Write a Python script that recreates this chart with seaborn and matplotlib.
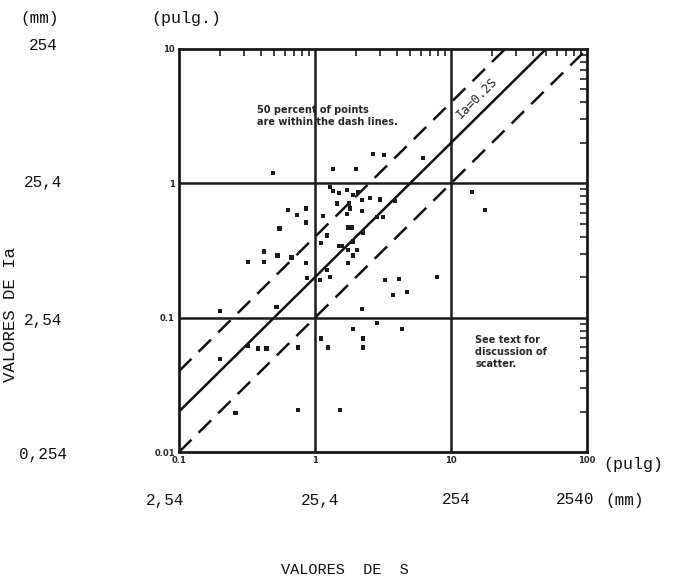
import numpy as np
import pandas as pd
import matplotlib
matplotlib.use("Agg")
import matplotlib.pyplot as plt
import seaborn as sns
from matplotlib.ticker import LogLocator, NullFormatter, FixedLocator, FixedFormatter

# ---- data ----
S_values = [0.49, 0.63, 0.74, 0.86, 0.86, 0.55, 0.42, 0.32, 0.42, 0.53, 0.67, 0.86,
            1.15, 1.22, 1.11, 2.67, 3.2, 1.36, 2.0, 1.36, 1.5, 1.72, 1.9, 2.07,
            2.22, 2.54, 3.0, 3.87, 1.45, 1.78, 2.22, 1.72, 3.16, 1.75, 2.25, 1.9,
            1.5, 1.75, 1.9, 6.2, 14.3, 17.8, 3.27, 4.15, 7.9, 3.75, 4.75, 2.22,
            2.86, 1.9, 4.36, 2.25, 2.25, 1.25, 1.11, 1.53, 0.2, 0.52, 0.32, 0.38,
            0.44, 0.75, 0.2, 0.26, 0.75, 0.87, 1.09, 1.29, 1.81, 1.87, 2.04, 2.86,
            1.22, 1.58, 1.75, 1.29]
Ia_values = [1.19, 0.63, 0.58, 0.65, 0.51, 0.46, 0.31, 0.26, 0.26, 0.29, 0.28, 0.255,
             0.57, 0.41, 0.36, 1.65, 1.63, 1.28, 1.28, 0.88, 0.85, 0.89, 0.82, 0.86,
             0.75, 0.78, 0.76, 0.74, 0.71, 0.71, 0.62, 0.59, 0.56, 0.47, 0.43, 0.37,
             0.34, 0.32, 0.29, 1.54, 0.86, 0.63, 0.19, 0.194, 0.2, 0.147, 0.155, 0.116,
             0.091, 0.082, 0.082, 0.07, 0.06, 0.06, 0.07, 0.0205, 0.112, 0.12, 0.0615, 0.059,
             0.059, 0.06, 0.049, 0.0195, 0.0205, 0.197, 0.19, 0.2, 0.65, 0.47, 0.32, 0.56,
             0.226, 0.34, 0.255, 0.94]

line_ratios = [0.1, 0.2, 0.4]          # Ia / S for the three lines
line_styles = ["dashed", "solid", "dashed"]
S_range = [0.1, 100]

x_ticks = [0.1, 1, 10, 100]
x_tick_labels = ["0.1", "1", "10", "100"]
y_ticks = [0.01, 0.1, 1, 10]
y_tick_labels = ["0.01", "0.1", "1", "10"]
x_mm_labels = ["2,54", "25,4", "254", "2540"]
y_mm_labels = ["0,254", "2,54", "25,4", "254"]

# ---- figure ----
sns.set_style("white")
plt.rcParams["font.family"] = ["Liberation Mono", "DejaVu Sans Mono"]

W, H = 679, 579
fig = plt.figure(figsize=(W / 100, H / 100), dpi=100)
ax_l, ax_r, ax_t, ax_b = 179, 587, 49, 452
ax = fig.add_axes([ax_l / W, 1 - ax_b / H, (ax_r - ax_l) / W, (ax_b - ax_t) / H])

ax.set_xscale("log")
ax.set_yscale("log")
ax.set_xlim(S_range[0], S_range[1])
ax.set_ylim(0.01, 10)

# grid at decades
for v in x_ticks[1:-1]:
    ax.axvline(v, color="#1a1a1a", lw=1.8, zorder=1)
for v in y_ticks[1:-1]:
    ax.axhline(v, color="#1a1a1a", lw=1.8, zorder=1)

# reference lines
lines_df = pd.concat([
    pd.DataFrame({"S": S_range, "Ia": [r * s for s in S_range], "ratio": str(r)})
    for r in line_ratios
])
for r, ls in zip(line_ratios, line_styles):
    sub = lines_df[lines_df["ratio"] == str(r)]
    sns.lineplot(data=sub, x="S", y="Ia", ax=ax, color="#111111", lw=1.8,
                 estimator=None, sort=False, zorder=2)
    if ls == "dashed":
        ax.lines[-1].set_dashes([7, 4])

# scatter points
pts = pd.DataFrame({"S": S_values, "Ia": Ia_values})
sns.scatterplot(data=pts, x="S", y="Ia", ax=ax, marker="s", s=10, color="#1a1a1a",
                edgecolor="none", zorder=3, legend=False)

# ticks
ax.xaxis.set_major_locator(FixedLocator(x_ticks))
ax.xaxis.set_major_formatter(FixedFormatter(x_tick_labels))
ax.yaxis.set_major_locator(FixedLocator(y_ticks))
ax.yaxis.set_major_formatter(FixedFormatter(y_tick_labels))
ax.xaxis.set_minor_locator(LogLocator(base=10, subs=np.arange(2, 10)))
ax.yaxis.set_minor_locator(LogLocator(base=10, subs=np.arange(2, 10)))
ax.xaxis.set_minor_formatter(NullFormatter())
ax.yaxis.set_minor_formatter(NullFormatter())
ax.tick_params(which="both", direction="in", top=True, right=True, color="#222222")
ax.tick_params(which="major", length=0, pad=3, labelsize=6)
ax.tick_params(which="minor", length=5, width=1.2)
for lab in ax.get_xticklabels() + ax.get_yticklabels():
    lab.set_fontfamily("DejaVu Sans")
    lab.set_fontweight("bold")
ax.set_xlabel("")
ax.set_ylabel("")
for sp in ax.spines.values():
    sp.set_linewidth(2.0)
    sp.set_color("#1a1a1a")

# annotations inside
ax.text((257 - ax_l) / (ax_r - ax_l), (ax_b - 116) / (ax_b - ax_t),
        "50 percent of points\nare within the dash lines.", transform=ax.transAxes,
        fontsize=7, fontweight="bold", family="DejaVu Sans", ha="left", va="center",
        linespacing=1.35)
ax.text(15.5, 4.3, "Ia=0.2S", rotation=45, fontsize=9,
        family="DejaVu Sans Mono", ha="center", va="center")
ax.text((475 - ax_l) / (ax_r - ax_l), (ax_b - 352) / (ax_b - ax_t),
        "See text for\ndiscussion of\nscatter.", transform=ax.transAxes,
        fontsize=7, fontweight="bold", family="DejaVu Sans", ha="left", va="center",
        linespacing=1.3)

# outer labels (mm / pulg)
def ftext(px, py, s, **kw):
    fig.text(px / W, 1 - py / H, s, **kw)

tcol = "#111111"
ftext(40, 18, "(mm)", fontsize=11.5, ha="center", va="center", color=tcol)
ftext(186, 18, "(pulg.)", fontsize=12, ha="center", va="center", color=tcol)
for lab, py in zip(y_mm_labels, [455, 320, 183, 45]):
    ftext(43, py, lab, fontsize=11.5, ha="center", va="center", color=tcol)
for lab, px in zip(x_mm_labels, [165, 320, 456, 575]):
    ftext(px, 500, lab, fontsize=11.5, ha="center", va="center", color=tcol)
ftext(625, 500, "(mm)", fontsize=11.5, ha="center", va="center", color=tcol)
ftext(633, 465, "(pulg)", fontsize=12, ha="center", va="center", color=tcol)
ftext(345, 570, "VALORES  DE  S", fontsize=11, ha="center", va="center", color=tcol)
ftext(11, 315, "VALORES DE Ia", fontsize=12.5, ha="center", va="center", rotation=90, color=tcol)

fig.savefig("out.png", dpi=100, facecolor="white")
